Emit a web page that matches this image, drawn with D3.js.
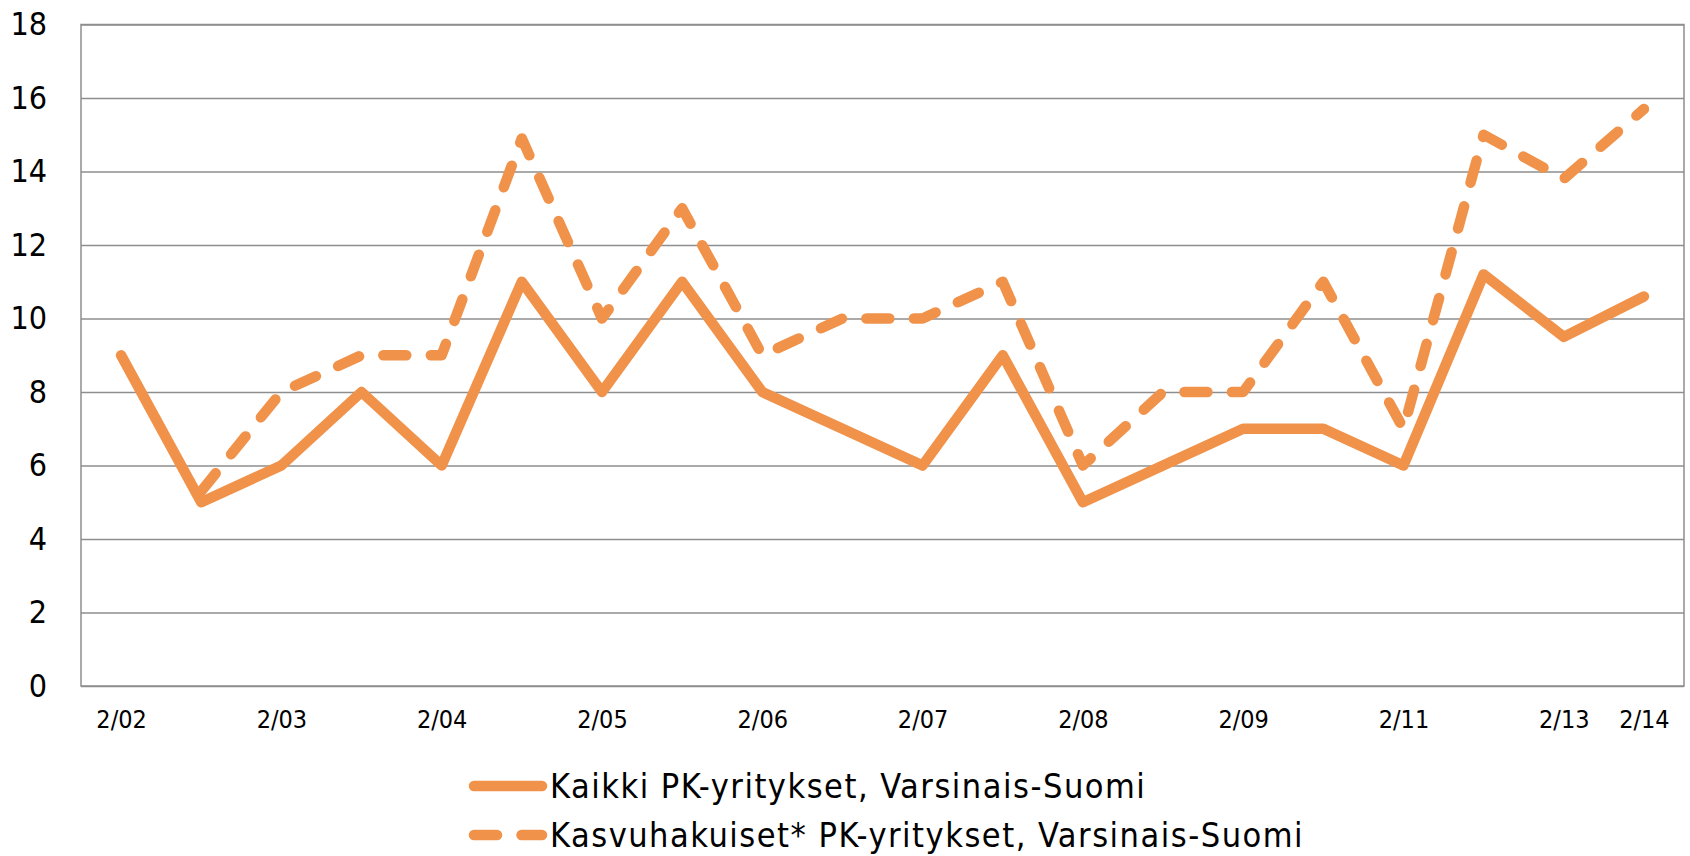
<!DOCTYPE html>
<html>
<head>
<meta charset="utf-8">
<script src="https://cdn.jsdelivr.net/npm/d3@7"></script>
<style>
  body { margin: 0; background: #fff; }
  text { font-family: "DejaVu Sans Condensed", "DejaVu Sans", sans-serif; fill: #000; }
</style>
</head>
<body>
<svg id="chart" width="1690" height="856"></svg>
<script>
// data
const tickLabels = ["2/02", "", "2/03", "", "2/04", "", "2/05", "", "2/06", "", "2/07", "",
                    "2/08", "", "2/09", "", "2/11", "", "2/13", "2/14"]
const kaikki = [9, 5, 6, 8, 6, 11, 8, 11, 8, 7, 6, 9, 5, 6, 7, 7, 6, 11.2, 9.5, 10.6]
const kasvu = [null, 5.3, 8, 9, 9, 14.9, 10, 13, 9, 10, 10, 11, 6, 8, 8, 11, 7, 15, 13.8, 15.7]
const yTicks = [0, 2, 4, 6, 8, 10, 12, 14, 16, 18]
const seriesNames = ["Kaikki PK-yritykset, Varsinais-Suomi", "Kasvuhakuiset* PK-yritykset, Varsinais-Suomi"]

const orange = "#F0924A"
const gridColor = "#8e8e8e"
const dash = "23 24.5"

const margin = {top: 24.5, right: 6, bottom: 170, left: 81}
const svg = d3.select("#chart")
const W = +svg.attr("width"), H = +svg.attr("height")
const width = W - margin.left - margin.right
const height = H - margin.top - margin.bottom

const g = svg.append("g").attr("transform", `translate(${margin.left},${margin.top})`)

const x = d3.scalePoint().domain(d3.range(tickLabels.length)).range([0, width]).padding(0.5)
const y = d3.scaleLinear().domain([0, 18]).range([height, 0])

// y axis + gridlines
const yAxis = g.append("g")
    .call(d3.axisLeft(y).tickValues(yTicks).tickSizeInner(-width).tickSizeOuter(0).tickPadding(34))
yAxis.select(".domain").remove()
yAxis.selectAll("line").attr("stroke", gridColor).attr("stroke-width", 1.5)
yAxis.selectAll("text").style("font-size", "32px")

// x axis labels
const xAxis = g.append("g").attr("transform", `translate(0,${height})`)
    .call(d3.axisBottom(x).tickFormat(i => tickLabels[i]).tickSize(0).tickPadding(24))
xAxis.select(".domain").remove()
xAxis.selectAll("text").style("font-size", "25px")

// plot frame
g.append("rect")
    .attr("width", width).attr("height", height)
    .attr("fill", "none").attr("stroke", gridColor).attr("stroke-width", 1.5)

const line = d3.line()
    .defined(d => d != null)
    .x((d, i) => x(i))
    .y(d => y(d))

g.append("path").datum(kasvu)
    .attr("d", line)
    .attr("fill", "none").attr("stroke", orange).attr("stroke-width", 10.5)
    .attr("stroke-dasharray", dash).attr("stroke-linecap", "round").attr("stroke-linejoin", "round")

g.append("path").datum(kaikki)
    .attr("d", line)
    .attr("fill", "none").attr("stroke", orange).attr("stroke-width", 10.5)
    .attr("stroke-linejoin", "round").attr("stroke-linecap", "round")

// legend
const legend = svg.append("g").attr("transform", "translate(474,786)")
seriesNames.forEach((name, i) => {
    const row = legend.append("g").attr("transform", `translate(0,${i * 49})`)
    row.append("line")
        .attr("x1", 0).attr("x2", 68).attr("y1", 0).attr("y2", 0)
        .attr("stroke", orange).attr("stroke-width", 10.5).attr("stroke-linecap", "round")
        .attr("stroke-dasharray", i === 1 ? dash : null)
    row.append("text")
        .attr("x", 76).attr("y", 12)
        .style("font-size", "34px")
        .style("letter-spacing", "1.5px")
        .text(name)
})
</script>
</body>
</html>
